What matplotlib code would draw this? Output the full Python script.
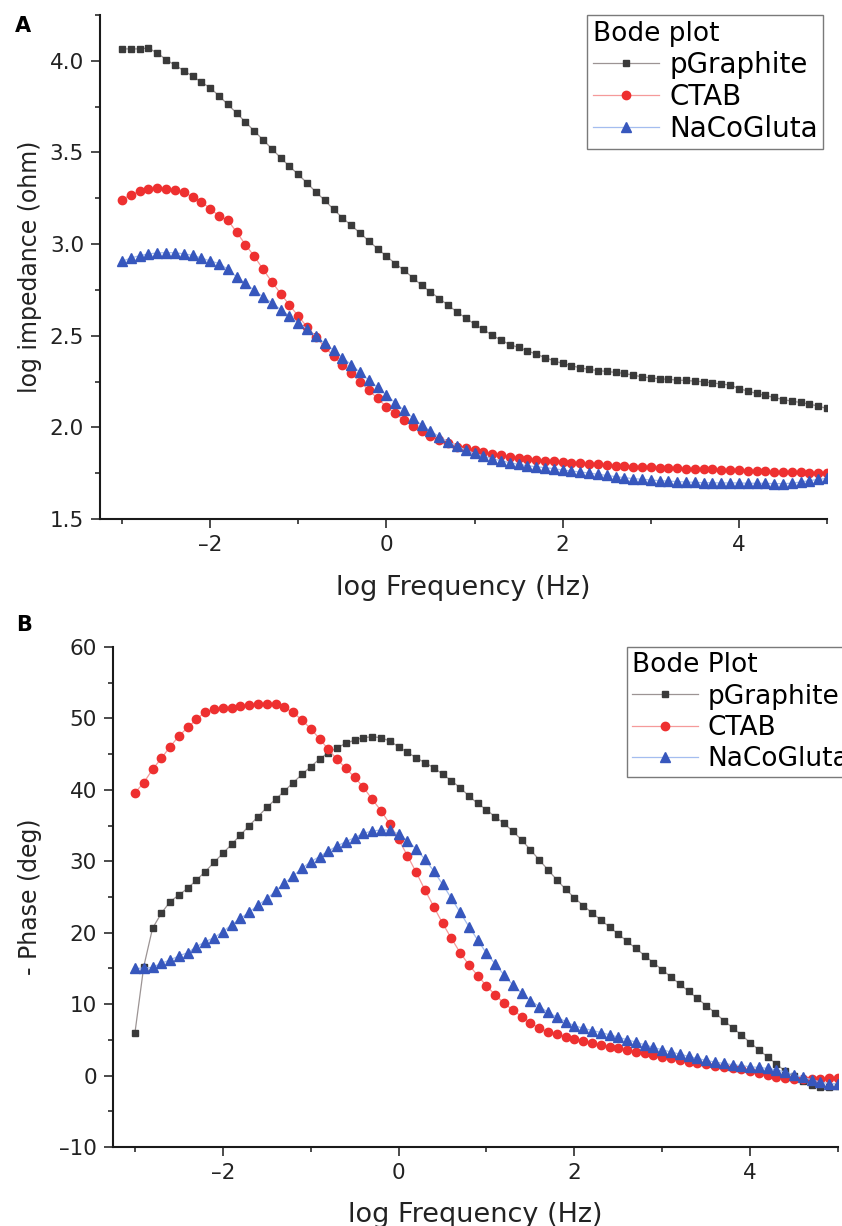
import numpy as np
import matplotlib
matplotlib.use('Agg')
import matplotlib.pyplot as plt
from matplotlib.ticker import MultipleLocator, FuncFormatter

# x grid: 10 points per decade, 1 mHz .. 100 kHz
log_freq = np.round(np.linspace(-3.0, 5.0, 81), 1)

# Panel A: log |Z| (ohm)
imp_pgraphite = [
    4.065, 4.065, 4.065, 4.070, 4.042, 4.007, 3.976, 3.947, 3.916, 3.884,
    3.853, 3.809, 3.762, 3.715, 3.666, 3.617, 3.569, 3.520, 3.471, 3.424,
    3.380, 3.333, 3.284, 3.239, 3.190, 3.144, 3.102, 3.061, 3.017, 2.975,
    2.934, 2.894, 2.857, 2.817, 2.775, 2.739, 2.703, 2.667, 2.630, 2.597,
    2.563, 2.534, 2.503, 2.476, 2.452, 2.436, 2.418, 2.399, 2.381, 2.363,
    2.349, 2.336, 2.325, 2.316, 2.310, 2.305, 2.300, 2.294, 2.285, 2.276,
    2.270, 2.265, 2.262, 2.258, 2.256, 2.252, 2.249, 2.243, 2.236, 2.231,
    2.212, 2.198, 2.185, 2.174, 2.163, 2.152, 2.143, 2.136, 2.127, 2.116,
    2.103]
imp_ctab = [
    3.242, 3.270, 3.288, 3.299, 3.304, 3.302, 3.293, 3.284, 3.257, 3.230,
    3.193, 3.153, 3.130, 3.066, 2.997, 2.934, 2.863, 2.794, 2.730, 2.667,
    2.607, 2.548, 2.494, 2.439, 2.389, 2.339, 2.294, 2.249, 2.203, 2.158,
    2.112, 2.076, 2.040, 2.007, 1.980, 1.954, 1.931, 1.913, 1.894, 1.888,
    1.878, 1.866, 1.856, 1.848, 1.840, 1.835, 1.829, 1.824, 1.818, 1.815,
    1.811, 1.807, 1.804, 1.800, 1.798, 1.795, 1.791, 1.789, 1.786, 1.784,
    1.782, 1.780, 1.778, 1.777, 1.775, 1.775, 1.773, 1.771, 1.769, 1.767,
    1.766, 1.764, 1.762, 1.760, 1.758, 1.757, 1.755, 1.754, 1.753, 1.753,
    1.752]
imp_naco = [
    2.906, 2.924, 2.937, 2.946, 2.952, 2.953, 2.953, 2.947, 2.939, 2.924,
    2.908, 2.894, 2.863, 2.821, 2.785, 2.748, 2.712, 2.679, 2.643, 2.607,
    2.570, 2.536, 2.498, 2.458, 2.421, 2.381, 2.343, 2.300, 2.258, 2.218,
    2.176, 2.134, 2.094, 2.052, 2.012, 1.980, 1.949, 1.922, 1.898, 1.876,
    1.858, 1.844, 1.829, 1.818, 1.807, 1.798, 1.791, 1.785, 1.780, 1.775,
    1.767, 1.762, 1.756, 1.751, 1.744, 1.738, 1.731, 1.726, 1.720, 1.717,
    1.713, 1.709, 1.707, 1.704, 1.702, 1.700, 1.698, 1.698, 1.697, 1.697,
    1.697, 1.695, 1.695, 1.695, 1.693, 1.693, 1.695, 1.702, 1.709, 1.716,
    1.722]

# Panel B: - phase (deg)
phase_pgraphite = [
    6.02, 15.26, 20.62, 22.72, 24.35, 25.28, 26.22, 27.38, 28.55, 29.85,
    31.11, 32.37, 33.68, 34.98, 36.24, 37.55, 38.67, 39.84, 41.00, 42.17,
    43.24, 44.31, 45.20, 45.90, 46.51, 46.97, 47.30, 47.44, 47.30, 46.83,
    46.04, 45.25, 44.50, 43.80, 43.10, 42.21, 41.28, 40.30, 39.14, 38.10,
    37.20, 36.20, 35.30, 34.20, 33.00, 31.60, 30.20, 28.80, 27.40, 26.10,
    24.90, 23.80, 22.80, 21.80, 20.80, 19.80, 18.80, 17.80, 16.80, 15.80,
    14.80, 13.80, 12.80, 11.80, 10.80, 9.80, 8.80, 7.70, 6.70, 5.70,
    4.60, 3.60, 2.60, 1.60, 0.60, -0.10, -0.80, -1.30, -1.60, -1.60,
    -1.45]
phase_ctab = [
    39.60, 41.00, 42.87, 44.41, 46.04, 47.53, 48.74, 49.86, 50.94, 51.26,
    51.40, 51.49, 51.73, 51.87, 51.96, 52.05, 51.96, 51.54, 50.84, 49.77,
    48.56, 47.16, 45.67, 44.27, 43.01, 41.75, 40.35, 38.67, 37.08, 35.22,
    33.07, 30.79, 28.46, 25.98, 23.65, 21.32, 19.22, 17.21, 15.49, 14.00,
    12.55, 11.29, 10.12, 9.19, 8.26, 7.42, 6.63, 6.16, 5.79, 5.46,
    5.13, 4.85, 4.57, 4.29, 4.06, 3.83, 3.59, 3.36, 3.13, 2.89,
    2.66, 2.43, 2.19, 1.96, 1.73, 1.59, 1.40, 1.26, 1.12, 0.93,
    0.70, 0.42, 0.09, -0.14, -0.28, -0.42, -0.45, -0.45, -0.42, -0.38,
    -0.30]
phase_naco = [
    15.02, 15.02, 15.16, 15.72, 16.19, 16.75, 17.21, 18.05, 18.75, 19.31,
    20.15, 21.09, 22.02, 22.86, 23.88, 24.72, 25.84, 26.92, 27.94, 29.01,
    29.95, 30.65, 31.44, 32.14, 32.75, 33.31, 33.91, 34.24, 34.38, 34.38,
    33.82, 32.89, 31.72, 30.27, 28.64, 26.78, 24.82, 22.86, 20.85, 18.99,
    17.11, 15.62, 14.09, 12.69, 11.53, 10.50, 9.67, 8.87, 8.17, 7.57,
    6.96, 6.64, 6.31, 6.03, 5.71, 5.38, 5.01, 4.68, 4.31, 3.94,
    3.61, 3.29, 3.01, 2.68, 2.40, 2.12, 1.89, 1.70, 1.52, 1.38,
    1.24, 1.14, 1.00, 0.82, 0.49, 0.12, -0.26, -0.58, -0.91, -1.14,
    -1.14]

series_names = ['pGraphite', 'CTAB', 'NaCoGluta']

plt.rcParams['font.family'] = ['DejaVu Sans']

# marker / line look per series
styles = [
    dict(marker='s', ms=4.8, mfc='#3a3a3a', mec='#3a3a3a', color='#9c9494'),
    dict(marker='o', ms=6.0, mfc='#ee3030', mec='#ee3030', color='#f59a9a'),
    dict(marker='^', ms=6.6, mfc='#3757bd', mec='#3757bd', color='#a4bdef'),
]


def dash_fmt(fmt):
    # Origin-style short minus sign
    return FuncFormatter(lambda v, p: fmt.format(v).replace('-', '\u2013'))


def style_axes(ax):
    for side in ['top', 'right']:
        ax.spines[side].set_visible(False)
    for side in ['left', 'bottom']:
        ax.spines[side].set_linewidth(1.5)
        ax.spines[side].set_color('#1a1a1a')
    ax.tick_params(which='major', direction='out', length=6.5, width=1.1,
                   labelsize=15.5, pad=5, color='#1a1a1a', labelcolor='#222222')
    ax.tick_params(which='minor', direction='out', length=3.6, width=1.1,
                   color='#1a1a1a')
    ax.xaxis.set_major_locator(MultipleLocator(2))
    ax.xaxis.set_minor_locator(MultipleLocator(1))
    ax.xaxis.set_major_formatter(dash_fmt('{:g}'))
    ax.set_xlim(-3.25, 5.0)


def add_legend(ax, title, size=20, spacing=0.15, hlen=2.4, **kw):
    leg = ax.legend(title=title, fontsize=size, title_fontsize=19,
                    alignment='left', frameon=True, fancybox=False,
                    edgecolor='#7a7a7a', framealpha=1, borderaxespad=0,
                    handlelength=hlen, handletextpad=0.35, labelspacing=spacing,
                    borderpad=0.2, numpoints=1, **kw)
    leg.get_frame().set_linewidth(1.0)
    return leg


fig = plt.figure(figsize=(8.42, 12.26), dpi=100)

# ---- Panel A: impedance magnitude
axA = fig.add_axes([100 / 842, 1 - 519 / 1226, 727 / 842, 504 / 1226])
for name, y, st in zip(series_names, [imp_pgraphite, imp_ctab, imp_naco], styles):
    axA.plot(log_freq, y, lw=0.9, label=name, **st)
style_axes(axA)
axA.set_ylim(1.5, 4.25)
axA.yaxis.set_major_locator(MultipleLocator(0.5))
axA.yaxis.set_minor_locator(MultipleLocator(0.25))
axA.yaxis.set_major_formatter(dash_fmt('{:.1f}'))
axA.set_xlabel('log Frequency (Hz)', fontsize=19.5, color='#222222')
axA.set_ylabel('log impedance (ohm)', fontsize=17, color='#222222')
axA.xaxis.set_label_coords(0.5, -0.111)
axA.yaxis.set_label_coords(-0.08, 0.5)
add_legend(axA, 'Bode plot', loc='upper right', bbox_to_anchor=(0.995, 1.0))

# ---- Panel B: phase
axB = fig.add_axes([113 / 842, 1 - 1147 / 1226, 725 / 842, 500 / 1226])
for name, y, st in zip(series_names, [phase_pgraphite, phase_ctab, phase_naco], styles):
    axB.plot(log_freq, y, lw=0.9, label=name, **st)
style_axes(axB)
axB.set_ylim(-10, 60)
axB.yaxis.set_major_locator(MultipleLocator(10))
axB.yaxis.set_minor_locator(MultipleLocator(5))
axB.yaxis.set_major_formatter(dash_fmt('{:g}'))
axB.set_xlabel('log Frequency (Hz)', fontsize=19.5, color='#222222')
axB.set_ylabel('- Phase (deg)', fontsize=17, color='#222222')
axB.xaxis.set_label_coords(0.5, -0.11)
axB.yaxis.set_label_coords(-0.098, 0.5)
# legend runs off the right edge, as in the original figure
add_legend(axB, 'Bode Plot', size=19, spacing=0.2, hlen=2.5,
           loc='upper left', bbox_to_anchor=(0.709, 1.0))

# panel letters
fig.text(15 / 842, 1 - 26 / 1226, 'A', fontsize=15, fontweight='bold', va='center', ha='left')
fig.text(16 / 842, 1 - 625 / 1226, 'B', fontsize=15, fontweight='bold', va='center', ha='left')

fig.savefig('out.png', dpi=100)
